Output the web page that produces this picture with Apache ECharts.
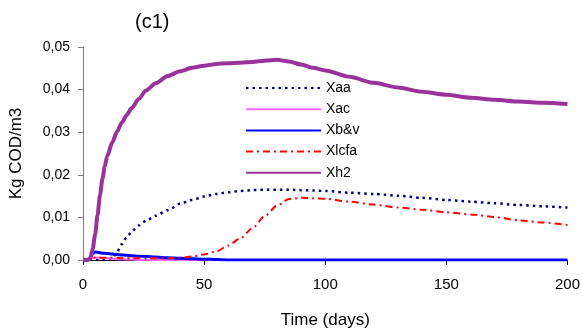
<!DOCTYPE html>
<html><head><meta charset="utf-8">
<script src="https://cdn.jsdelivr.net/npm/echarts@6/dist/echarts.min.js"></script>
<style>html,body{margin:0;padding:0;background:#fff}#c{width:583px;height:334px}</style>
</head><body><div id="c"></div>
<script>
var days = [0,2,3,4,5,6,7,8,9,10,12,14,16,18,20,23,26,30,35,40,45,50,55,60,65,70,75,80,85,90,95,100,110,120,130,140,150,160,170,180,190,200];
var xaa  = [0,0,0,0,0,0,0,0,0,0.0001,0.0003,0.0018,0.0037,0.0053,0.0066,0.0081,0.0092,0.0104,0.0117,0.0132,0.0141,0.0149,0.0155,0.0159,0.0162,0.0164,0.0165,0.0165,0.0165,0.0164,0.0163,0.0162,0.0158,0.0155,0.0151,0.0146,0.0141,0.0137,0.0133,0.0129,0.0126,0.0123];
var xac  = [0,0,0.0003,0.0005,0.0005,0.0005,0.0005,0.0004,0.0004,0.0004,0.0003,0.0002,0.0002,0.0001,0.0001,0,0,0,0,0,0,0,0,0,0,0,0,0,0,0,0,0,0,0,0,0,0,0,0,0,0,0];
var xbv  = [0,0,0.0005,0.0015,0.0019,0.0018,0.0017,0.0016,0.0016,0.0015,0.0014,0.0013,0.0012,0.0011,0.001,0.0009,0.0008,0.0007,0.0005,0.0004,0.0003,0.0002,0.0001,0,0,0,0,0,0,0,0,0,0,0,0,0,0,0,0,0,0,0];
var xlcfa= [0,0,0.0003,0.0005,0.0006,0.0006,0.0005,0.0005,0.0005,0.0005,0.0005,0.0005,0.0004,0.0004,0.0004,0.0004,0.0004,0.0004,0.0004,0.0005,0.0008,0.0013,0.002,0.0034,0.0051,0.0075,0.0103,0.0127,0.0143,0.0146,0.0145,0.0144,0.0137,0.013,0.0123,0.0118,0.0112,0.0107,0.0101,0.0093,0.0088,0.0082];
var xh2  = [0,0,0.0005,0.0026,0.006,0.0105,0.0152,0.019,0.022,0.0244,0.0275,0.0301,0.0322,0.034,0.0356,0.0378,0.0398,0.0415,0.0432,0.0443,0.0451,0.0456,0.046,0.0462,0.0463,0.0465,0.0468,0.047,0.0466,0.0459,0.0451,0.0445,0.043,0.0416,0.0405,0.0395,0.0388,0.0381,0.0376,0.0372,0.0369,0.0366];
var names = ['Xaa','Xac','Xb&v','Xlcfa','Xh2'];
var xTicks = [0,50,100,150,200];
var yTicks = [0,0.01,0.02,0.03,0.04,0.05];

function pts(v){ return days.map(function(d,i){ return [d, v[i]]; }); }
var font = 'Liberation Sans, Arial, sans-serif';
var chart = echarts.init(document.getElementById('c'), null, {renderer:'canvas'});
function line(i, v, color, width, type){
  return {name:names[i], type:'line', data:pts(v), symbol:'none', smooth:0.25, smoothMonotone:'x',
    lineStyle:{color:color,width:width,type:type||'solid'}, itemStyle:{color:color}};
}
chart.setOption({
  animation:false,
  title:{text:'(c1)', left:130, top:7, textStyle:{fontFamily:font,fontSize:20,fontWeight:'normal',color:'#000'}},
  grid:{left:82, right:15, top:47, bottom:73},
  legend:{orient:'vertical', left:240, top:76, itemWidth:75, itemHeight:12, itemGap:7.2,
    itemStyle:{opacity:0}, padding:5,
    textStyle:{fontFamily:font,fontSize:14,color:'#000',lineHeight:12}, data:names},
  xAxis:{type:'value', min:0, max:200, interval:50,
    name:'Time (days)', nameLocation:'middle', nameGap:52,
    nameTextStyle:{fontFamily:font,fontSize:17,color:'#000'},
    axisLine:{lineStyle:{color:'#000',width:1}}, axisTick:{show:true,length:5,lineStyle:{color:'#000'}},
    axisLabel:{fontFamily:font,fontSize:15,color:'#000',margin:17}, splitLine:{show:false}},
  yAxis:{type:'value', min:0, max:0.05, interval:0.01,
    name:'Kg COD/m3', nameLocation:'middle', nameGap:58,
    nameTextStyle:{fontFamily:font,fontSize:17,color:'#000'},
    axisLine:{show:true,lineStyle:{color:'#808080',width:1}}, axisTick:{show:true,length:5,lineStyle:{color:'#808080'}},
    axisLabel:{fontFamily:font,fontSize:14,color:'#000',margin:13,
      formatter:function(v){ return v.toFixed(2).replace('.',','); }}, splitLine:{show:false}},
  series:[
    line(0, xaa, '#000080', 2.5, [2.5,4]),
    line(1, xac, '#FF66FF', 2),
    line(2, xbv, '#0000FF', 3),
    line(3, xlcfa, '#FF0000', 2, [7,4,2,4]),
    line(4, xh2, '#993399', 4)
  ]
});
</script></body></html>
